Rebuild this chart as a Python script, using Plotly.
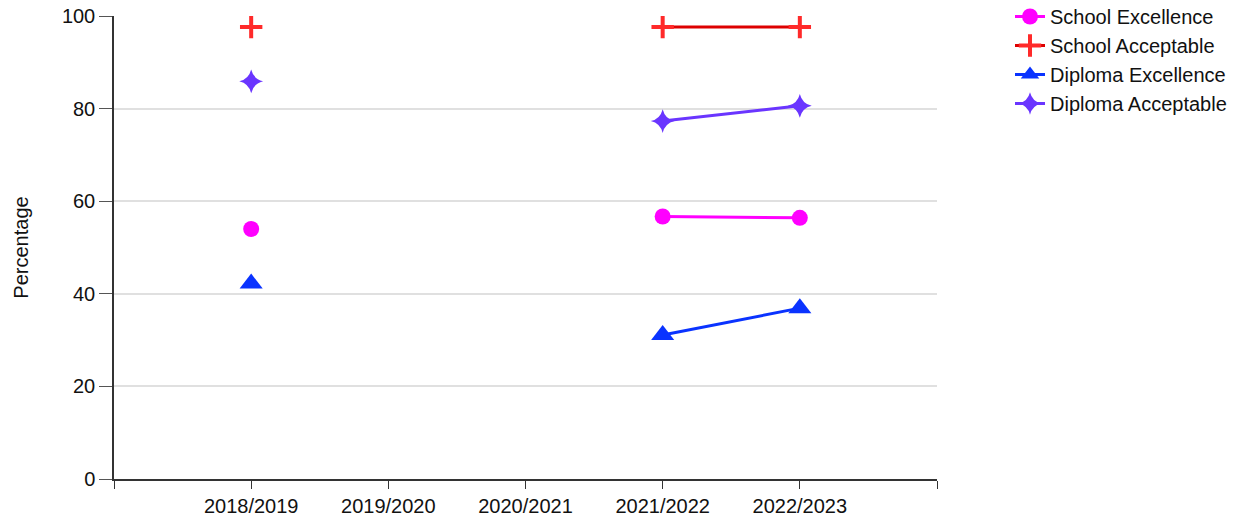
import plotly.graph_objects as go

years = ["2018/2019", "2019/2020", "2020/2021", "2021/2022", "2022/2023"]
school_excellence = [54.0, None, None, 56.7, 56.4]
school_acceptable = [97.6, None, None, 97.6, 97.6]
diploma_excellence = [42.2, None, None, 31.1, 36.9]
diploma_acceptable = [85.9, None, None, 77.3, 80.6]

series = [
    ("School Excellence", school_excellence, "#ff00ff", "#ff00ff", "circle", 16),
    ("School Acceptable", school_acceptable, "#dd0000", "#ff2a2a", "cross-thin", 16),
    ("Diploma Excellence", diploma_excellence, "#0a33ff", "#0a33ff", "triangle-up", 20),
    ("Diploma Acceptable", diploma_acceptable, "#6a35ff", "#6a35ff", "star-diamond", 17),
]

xpos = list(range(len(years)))
fig = go.Figure()
for name, vals, lc, mc, sym, sz in series:
    mk = dict(symbol=sym, size=sz, color=mc)
    if sym == "cross-thin":
        mk["line"] = dict(color=mc, width=4)
    fig.add_trace(go.Scatter(
        x=xpos, y=vals, name=name, mode="lines+markers",
        line=dict(color=lc, width=3), marker=mk, connectgaps=False,
    ))

W, H = 1243, 516
L, T, PW, PH = 114, 16, 823, 463
fig.update_layout(
    width=W, height=H,
    margin=dict(l=L, r=W - L - PW, t=T, b=H - T - PH, autoexpand=False),
    plot_bgcolor="white", paper_bgcolor="white",
    font=dict(family="Arial, Liberation Sans, sans-serif", size=20, color="#111"),
    legend=dict(x=1 + (1010 - 937) / PW, y=1 + 19 / PH,
                xanchor="left", yanchor="top",
                font=dict(size=20), tracegroupgap=0, itemwidth=30),
    showlegend=True,
)
fig.update_xaxes(
    range=[-1, 5], tickmode="array", tickvals=[-1] + xpos + [5],
    ticktext=[""] + years + [""], ticks="outside", ticklen=8, tickcolor="#333",
    showline=True, linecolor="#333", linewidth=1.5, showgrid=False, zeroline=False,
    automargin=False, ticklabeloverflow="allow",
)
fig.update_yaxes(
    range=[0, 100], tickvals=[0, 20, 40, 60, 80, 100], ticks="outside", ticklen=13,
    tickcolor="#555", showline=True, linecolor="#333", linewidth=1.5,
    showgrid=True, gridcolor="#e0e0e0", gridwidth=1.5, zeroline=False,
    automargin=False, ticklabeloverflow="allow",
    title=dict(text="Percentage", font=dict(size=20), standoff=28),
)
fig.write_html("out.html", config={"displayModeBar": False},
               post_script="document.body.style.margin='0';")
